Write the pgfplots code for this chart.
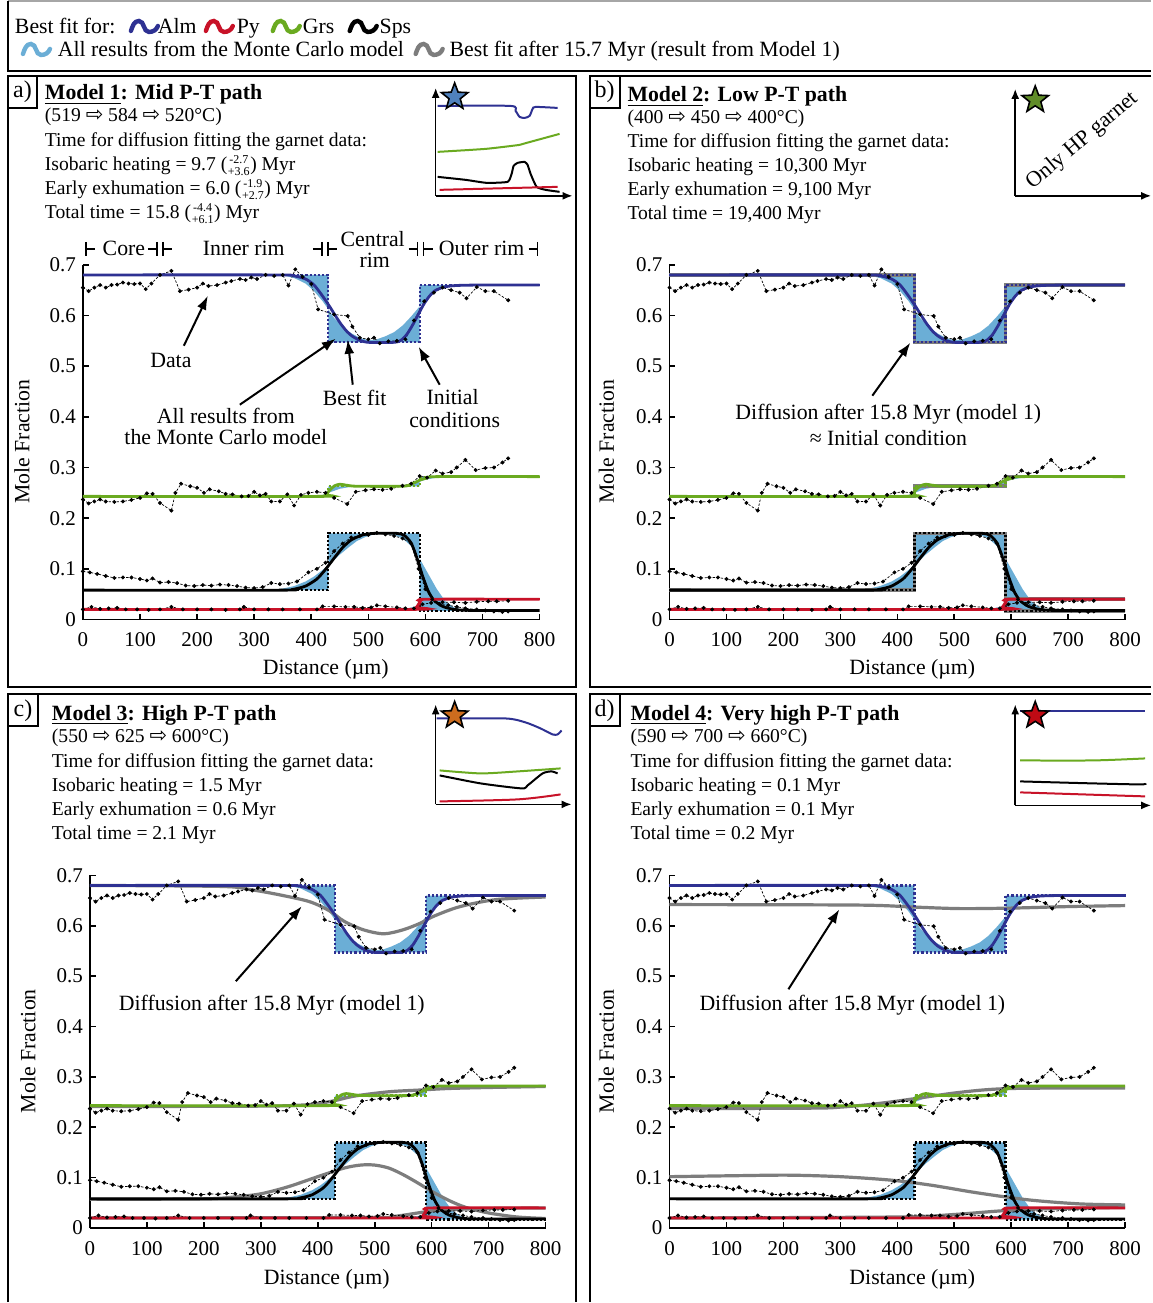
\documentclass[border=0pt]{standalone}
\usepackage{fontspec}
\setmainfont{Liberation Serif}
\newfontfamily\dejavu{DejaVu Sans}
\usepackage{pgfplots}
\pgfplotsset{compat=1.18}
\usepackage{pgfplotstable}
\usetikzlibrary{arrows.meta}

\definecolor{almblue}{RGB}{46,49,146}
\definecolor{pyred}{RGB}{200,18,40}
\definecolor{grsgreen}{RGB}{106,170,32}
\definecolor{mcblue}{RGB}{107,174,214}
\definecolor{gcurve}{RGB}{125,125,125}
\definecolor{starA}{RGB}{79,129,189}
\definecolor{starB}{RGB}{96,140,40}
\definecolor{starC}{RGB}{204,108,30}
\definecolor{starD}{RGB}{192,10,20}

\pgfdeclareplotmark{fstar}{%
  \pgfpathmoveto{\pgfpointpolar{90}{\pgfplotmarksize}}%
  \pgfpathlineto{\pgfpointpolar{126}{0.42*\pgfplotmarksize}}%
  \pgfpathlineto{\pgfpointpolar{162}{\pgfplotmarksize}}%
  \pgfpathlineto{\pgfpointpolar{198}{0.42*\pgfplotmarksize}}%
  \pgfpathlineto{\pgfpointpolar{234}{\pgfplotmarksize}}%
  \pgfpathlineto{\pgfpointpolar{270}{0.42*\pgfplotmarksize}}%
  \pgfpathlineto{\pgfpointpolar{306}{\pgfplotmarksize}}%
  \pgfpathlineto{\pgfpointpolar{342}{0.42*\pgfplotmarksize}}%
  \pgfpathlineto{\pgfpointpolar{18}{\pgfplotmarksize}}%
  \pgfpathlineto{\pgfpointpolar{54}{0.42*\pgfplotmarksize}}%
  \pgfpathclose
  \pgfusepathqfillstroke
}

% ---------------- measured data (same garnet in all panels)
\pgfplotstableread{
x y
0 0.655
10 0.648
20 0.655
30 0.660
40 0.655
50 0.660
60 0.661
70 0.665
80 0.663
90 0.662
100 0.663
110 0.652
120 0.663
135 0.680
155 0.688
170 0.648
185 0.651
200 0.655
210 0.663
220 0.658
235 0.660
250 0.665
260 0.668
275 0.672
285 0.670
295 0.675
305 0.672
320 0.680
335 0.678
350 0.680
360 0.659
372 0.691
385 0.676
400 0.662
412 0.612
440 0.602
464 0.599
472 0.578
485 0.556
500 0.553
510 0.556
520 0.545
535 0.549
550 0.550
565 0.553
580 0.590
598 0.628
615 0.645
630 0.655
645 0.650
660 0.645
672 0.634
690 0.656
705 0.648
720 0.648
745 0.630
}\almdata
\pgfplotstableread{
x y
0 0.237
10 0.229
20 0.233
30 0.237
40 0.233
55 0.232
70 0.233
85 0.236
100 0.240
112 0.249
122 0.248
135 0.230
155 0.215
162 0.250
172 0.268
188 0.263
200 0.260
212 0.250
222 0.257
238 0.253
250 0.248
262 0.247
278 0.243
290 0.244
300 0.252
310 0.245
320 0.248
330 0.233
345 0.233
358 0.247
370 0.225
382 0.246
395 0.250
410 0.252
425 0.250
440 0.240
463 0.228
478 0.252
495 0.255
510 0.257
525 0.256
540 0.258
560 0.264
575 0.268
590 0.283
603 0.280
618 0.294
630 0.288
645 0.291
655 0.300
670 0.315
688 0.295
705 0.299
720 0.300
735 0.310
745 0.318
}\grsdata
\pgfplotstableread{
x y
0 0.095
12 0.093
25 0.090
40 0.086
55 0.082
70 0.083
85 0.083
100 0.080
112 0.077
122 0.081
135 0.073
150 0.074
165 0.072
180 0.067
195 0.066
210 0.068
225 0.067
240 0.069
255 0.068
270 0.066
285 0.063
300 0.062
315 0.064
330 0.072
345 0.070
360 0.071
375 0.075
395 0.093
410 0.100
425 0.112
440 0.135
455 0.150
470 0.162
485 0.165
500 0.167
515 0.171
530 0.168
545 0.165
560 0.160
575 0.150
588 0.100
600 0.060
612 0.040
625 0.030
640 0.028
655 0.025
670 0.022
690 0.020
705 0.018
720 0.016
735 0.015
745 0.016
}\spsdata
\pgfplotstableread{
x y
0 0.020
15 0.025
30 0.021
45 0.022
60 0.023
75 0.020
95 0.020
115 0.019
135 0.020
155 0.025
175 0.020
200 0.020
225 0.020
250 0.019
275 0.020
282 0.025
300 0.020
325 0.020
350 0.020
380 0.020
410 0.020
420 0.026
440 0.026
460 0.025
475 0.025
490 0.023
505 0.024
515 0.028
530 0.026
550 0.024
565 0.022
580 0.022
595 0.030
610 0.033
630 0.034
650 0.034
670 0.033
690 0.035
710 0.036
725 0.036
745 0.037
}\pydata

% ---------------- best fits
\pgfplotstableread{
x y
0 0.680
340 0.680
370 0.678
390 0.672
405 0.660
420 0.638
432 0.618
442 0.600
452 0.583
462 0.569
472 0.559
485 0.551
500 0.547
545 0.547
557 0.551
567 0.562
577 0.580
587 0.601
597 0.622
607 0.638
617 0.649
632 0.656
652 0.659
690 0.660
800 0.660
}\almfit
\pgfplotstableread{
x y
0 0.243
415 0.243
425 0.246
433 0.256
441 0.264
450 0.267
462 0.265
480 0.263
560 0.263
575 0.267
590 0.275
602 0.279
620 0.282
800 0.282
}\grsfit
\pgfplotstableread{
x y
0 0.058
350 0.058
370 0.060
390 0.066
410 0.080
425 0.099
440 0.121
455 0.142
470 0.157
490 0.167
510 0.170
550 0.170
563 0.166
575 0.151
585 0.122
595 0.086
605 0.056
615 0.038
630 0.026
650 0.020
680 0.018
800 0.018
}\spsfit
\pgfplotstableread{
x y
0 0.020
575 0.020
584 0.024
591 0.035
600 0.040
800 0.040
}\pyfit

% ---------------- initial conditions
\pgfplotstableread{
x y
0 0.680
430 0.680
430 0.547
590 0.547
590 0.660
800 0.660
}\alminit
\pgfplotstableread{
x y
0 0.243
430 0.243
430 0.263
590 0.263
590 0.282
800 0.282
}\grsinit
\pgfplotstableread{
x y
0 0.058
430 0.058
430 0.170
590 0.170
590 0.017
800 0.017
}\spsinit
\pgfplotstableread{
x y
0 0.020
590 0.020
590 0.040
800 0.040
}\pyinit

% ---------------- Monte Carlo envelopes
\pgfplotstableread{
x y
330 0.680
430 0.680
430 0.547
590 0.547
590 0.660
660 0.660
640 0.658
620 0.650
605 0.638
590 0.618
575 0.598
560 0.580
545 0.567
530 0.559
515 0.553
500 0.551
485 0.556
470 0.565
455 0.578
440 0.595
430 0.612
420 0.628
405 0.648
390 0.663
370 0.674
350 0.679
330 0.680
}\almmc
\pgfplotstableread{
x y
400 0.243
430 0.243
430 0.263
590 0.263
590 0.282
640 0.282
620 0.280
600 0.276
585 0.270
570 0.266
550 0.264
500 0.263
470 0.262
450 0.258
435 0.252
420 0.246
400 0.243
}\grsmc
\pgfplotstableread{
x y
300 0.058
430 0.058
430 0.170
590 0.170
590 0.017
680 0.017
665 0.019
650 0.024
635 0.036
620 0.060
605 0.090
590 0.120
575 0.145
560 0.160
545 0.167
525 0.170
510 0.168
495 0.163
480 0.155
465 0.142
450 0.128
435 0.112
420 0.098
405 0.085
390 0.075
370 0.066
350 0.061
330 0.059
300 0.058
}\spsmc
\pgfplotstableread{
x y
560 0.020
590 0.020
590 0.040
630 0.040
610 0.037
595 0.032
580 0.025
560 0.020
}\pymc

% ---------------- gray curves, panel c
\pgfplotstableread{
x y
0 0.680
230 0.678
280 0.672
330 0.662
385 0.648
420 0.630
446 0.609
480 0.592
516 0.584
550 0.592
580 0.605
604 0.619
650 0.638
714 0.652
800 0.657
}\almgc
\pgfplotstableread{
x y
0 0.241
300 0.242
370 0.244
400 0.247
430 0.253
460 0.261
490 0.266
530 0.271
580 0.274
630 0.277
700 0.279
800 0.281
}\grsgc
\pgfplotstableread{
x y
0 0.057
200 0.058
256 0.062
300 0.068
348 0.082
400 0.102
446 0.119
475 0.125
500 0.125
525 0.119
550 0.106
575 0.090
600 0.073
630 0.055
660 0.041
700 0.030
750 0.022
800 0.019
}\spsgc
\pgfplotstableread{
x y
0 0.020
500 0.021
540 0.024
570 0.029
600 0.034
640 0.037
700 0.039
800 0.040
}\pygc
% ---------------- gray curves, panel d
\pgfplotstableread{
x y
0 0.642
330 0.641
430 0.637
510 0.634
600 0.635
700 0.638
800 0.640
}\almgd
\pgfplotstableread{
x y
0 0.237
250 0.238
300 0.240
350 0.245
400 0.252
450 0.260
500 0.268
550 0.274
600 0.277
700 0.278
800 0.278
}\grsgd
\pgfplotstableread{
x y
0 0.102
120 0.104
210 0.105
300 0.102
390 0.095
460 0.085
540 0.070
630 0.056
720 0.048
800 0.046
}\spsgd
\pgfplotstableread{
x y
0 0.020
400 0.022
500 0.027
580 0.034
650 0.038
800 0.041
}\pygd

\pgfplotsset{
 mainax/.style={
  scale only axis, anchor=south west,
  xmin=0, xmax=800, ymin=0, ymax=0.7,
  axis lines=left,
  axis line style={line width=0.9pt, -},
  xtick={0,100,200,300,400,500,600,700,800},
  xticklabels={0,100,200,300,400,500,600,700,800},
  ytick={0,0.1,0.2,0.3,0.4,0.5,0.6,0.7},
  yticklabels={0,0.1,0.2,0.3,0.4,0.5,0.6,0.7},
  tick align=inside,
  major tick length=3pt,
  tick style={black, line width=0.8pt},
  tick label style={font=\fontsize{10.5}{12}\selectfont},
  xticklabel style={yshift=-3pt},
  /pgf/number format/assume math mode=true,
  clip=false,
 },
 inset/.style={
  scale only axis, anchor=south west,
  axis lines=left,
  axis line style={line width=0.8pt, -{Latex[length=5pt,width=4pt]}},
  xtick=\empty, ytick=\empty,
  xmin=0, ymin=0, clip=false,
 },
}

\newcommand\mcfills{%
 \addplot[fill=mcblue, draw=none] table {\almmc};
 \addplot[fill=mcblue, draw=none] table {\grsmc};
 \addplot[fill=mcblue, draw=none] table {\spsmc};
 \addplot[fill=mcblue, draw=none] table {\pymc};
}
\newcommand\initlines{%
 \addplot[almblue, densely dotted, line width=1.1pt] table {\alminit};
 \addplot[grsgreen, densely dotted, line width=1.1pt] table {\grsinit};
 \addplot[black, densely dotted, line width=1.1pt] table {\spsinit};
 \addplot[pyred, densely dotted, line width=1.1pt] table {\pyinit};
}
\newcommand\grayinit{%
 \addplot[gcurve, line width=1.8pt] table {\alminit};
 \addplot[gcurve, line width=1.8pt] table {\grsinit};
 \addplot[gcurve, line width=1.8pt] table {\spsinit};
 \addplot[gcurve, line width=1.8pt] table {\pyinit};
}
\newcommand\datalines{%
 \addplot[black, dash pattern=on 1.2pt off 0.8pt, line width=0.35pt, mark=*, mark size=0.8pt, mark options={solid}] table {\almdata};
 \addplot[black, dash pattern=on 1.2pt off 0.8pt, line width=0.35pt, mark=*, mark size=0.8pt, mark options={solid}] table {\grsdata};
 \addplot[black, dash pattern=on 1.2pt off 0.8pt, line width=0.35pt, mark=*, mark size=0.8pt, mark options={solid}] table {\spsdata};
 \addplot[black, dash pattern=on 1.2pt off 0.8pt, line width=0.35pt, mark=*, mark size=0.8pt, mark options={solid}] table {\pydata};
}
\newcommand\bestfits{%
 \addplot[almblue, line width=1.4pt, smooth, tension=0.4] table {\almfit};
 \addplot[grsgreen, line width=1.4pt, smooth, tension=0.4] table {\grsfit};
 \addplot[black, line width=1.4pt, smooth, tension=0.4] table {\spsfit};
 \addplot[pyred, line width=1.4pt, smooth, tension=0.4] table {\pyfit};
}
\newcommand\graycurves[4]{%
 \addplot[gcurve, line width=1.6pt, smooth] table {#1};
 \addplot[gcurve, line width=1.6pt, smooth] table {#2};
 \addplot[gcurve, line width=1.6pt, smooth] table {#3};
 \addplot[gcurve, line width=1.6pt, smooth] table {#4};
}

\newcommand\ar{{\dejavu\fontsize{10.5}{10}\selectfont ⇨}}
\newcommand\fbody{\fontsize{9.8}{12}\selectfont}
\newcommand\fsmall{\fontsize{6}{6}\selectfont}
\newcommand\fann{\fontsize{10.9}{13}\selectfont}
\newcommand\ftitle{\fontsize{10.9}{13}\selectfont\bfseries}
\newcommand\wave[3]{\draw[#1, line width=2.2pt, line cap=round] (#2,-#3-4) to[out=70,in=180] (#2+8,-#3+6) to[out=0,in=180] (#2+18,-#3-5) to[out=0,in=-110] (#2+27,-#3+1);}
% line with stacked uncertainty: x, y, prefix, upper, lower
\newcommand\udline[5]{%
 \node[anchor=base west, font=\fbody] (p) at (#1,#2) {#3 (};
 \node[anchor=base west, font=\fsmall, xshift=0.3pt, yshift=-2.3pt] (lo) at (p.base east) {#5};
 \node[anchor=base, font=\fsmall, yshift=5.8pt] (hi) at (lo.base) {#4};
 \node[anchor=base west, font=\fbody, xshift=0.3pt, yshift=2.3pt] at (lo.base east) {) Myr};
}

\begin{document}
\begin{tikzpicture}
\begin{scope}[x=0.5pt,y=0.5pt]
\useasboundingbox (0,0) rectangle (1152,-1303);
\fill[white] (0,0) rectangle (1152,-1303);
\end{scope}

% ================= panel a
\begin{axis}[mainax, at={(41.5pt,-310pt)}, width=228.5pt, height=177.5pt]
\mcfills
\initlines
\datalines
\bestfits
\end{axis}
\begin{axis}[inset, at={(218pt,-98pt)}, width=68.5pt, height=54pt, xmax=137, ymax=108]
\addplot[almblue, line width=1pt, smooth, tension=0.4] coordinates {(2,90) (75,90) (80,85) (84,79) (89,78) (94,80) (97,87) (100,89) (122,88)};
\addplot[grsgreen, line width=1pt, smooth, tension=0.3] coordinates {(2,44) (50,47) (84,51) (91,53) (124,62)};
\addplot[black, line width=1pt, smooth, tension=0.3] coordinates {(2,19) (30,16) (51,13) (72,14) (76,22) (78,30) (82,33) (89,34) (92,31) (95,22) (101,9) (110,6) (124,4)};
\addplot[pyred, line width=1pt] coordinates {(4,6) (122,9)};
\addplot[only marks, mark=fstar, mark size=7pt, mark options={fill=starA, draw=black, line width=0.8pt}] coordinates {(19,99)};
\end{axis}

% ================= panel b
\begin{axis}[mainax, at={(335pt,-310pt)}, width=228pt, height=177.5pt]
\mcfills
\grayinit
\initlines
\datalines
\bestfits
\end{axis}
\begin{axis}[inset, at={(508pt,-98pt)}, width=68pt, height=53.5pt, xmax=136, ymax=107]
\addplot[only marks, mark=fstar, mark size=7pt, mark options={fill=starB, draw=black, line width=0.8pt}] coordinates {(20,96)};
\end{axis}

% ================= panel c
\begin{axis}[mainax, at={(45pt,-614.5pt)}, width=228pt, height=176.5pt]
\mcfills
\graycurves{\almgc}{\grsgc}{\spsgc}{\pygc}
\initlines
\datalines
\bestfits
\end{axis}
\begin{axis}[inset, at={(218pt,-402.5pt)}, width=68pt, height=50pt, xmax=136, ymax=100]
\addplot[almblue, line width=1pt, smooth, tension=0.4] coordinates {(1,86) (70,86) (90,82) (105,76) (117,70) (122,70) (126,74)};
\addplot[grsgreen, line width=1pt, smooth, tension=0.4] coordinates {(4,34) (45,31) (82,33) (125,36)};
\addplot[black, line width=1pt, smooth, tension=0.4] coordinates {(4,29) (45,21) (86,16) (92,19) (107,31) (116,33) (122,31)};
\addplot[pyred, line width=1pt, smooth] coordinates {(4,3) (82,5) (125,10)};
\addplot[only marks, mark=fstar, mark size=7pt, mark options={fill=starC, draw=black, line width=0.8pt}] coordinates {(19,89)};
\end{axis}

% ================= panel d
\begin{axis}[mainax, at={(335pt,-614.5pt)}, width=228pt, height=176.5pt]
\mcfills
\graycurves{\almgd}{\grsgd}{\spsgd}{\pygd}
\initlines
\datalines
\bestfits
\end{axis}
\begin{axis}[inset, at={(508pt,-403pt)}, width=68pt, height=50.5pt, xmax=136, ymax=101]
\addplot[almblue, line width=1pt] coordinates {(5,94) (130,94)};
\addplot[grsgreen, line width=1pt, smooth] coordinates {(5,45) (78,45) (130,47)};
\addplot[black, line width=1pt, smooth] coordinates {(5,24) (78,22) (125,21) (130,22)};
\addplot[pyred, line width=1pt] coordinates {(5,13) (130,9)};
\addplot[only marks, mark=fstar, mark size=7pt, mark options={fill=starD, draw=black, line width=0.8pt}] coordinates {(20,90)};
\end{axis}

% ================= annotations and frames
\begin{scope}[x=0.5pt,y=0.5pt, every node/.style={inner sep=0pt, outer sep=0pt}]
% frames
\draw[gray!70, line width=0.6pt] (8,-1) -- (1152,-1);
\draw[line width=1pt] (8,-1) -- (8,-71) -- (1152,-71);
\draw[line width=1pt] (8,-76) rectangle (576,-688);
\draw[line width=1pt] (1152,-76) -- (590,-76) -- (590,-688) -- (1152,-688);
\draw[line width=1pt] (8,-1303) -- (8,-695) -- (576,-695) -- (576,-1303);
\draw[line width=1pt] (590,-1303) -- (590,-695) -- (1152,-695);
% label boxes
\draw[line width=1pt] (8,-76) rectangle (37,-108);
\node[font=\fontsize{12}{14}\selectfont] at (22.5,-92) {a)};
\draw[line width=1pt] (590,-76) rectangle (620,-108);
\node[font=\fontsize{12}{14}\selectfont] at (605,-92) {b)};
\draw[line width=1pt] (8,-695) rectangle (38,-727);
\node[font=\fontsize{12}{14}\selectfont] at (23,-711) {c)};
\draw[line width=1pt] (590,-695) rectangle (620,-727);
\node[font=\fontsize{12}{14}\selectfont] at (605,-711) {d)};

% legend
\node[anchor=base west, font=\fann] at (15,-34) {Best fit for:};
\wave{almblue}{131}{27}
\node[anchor=base west, font=\fann] at (158,-34) {Alm};
\wave{pyred}{206}{27}
\node[anchor=base west, font=\fann] at (237,-34) {Py};
\wave{grsgreen}{273}{27}
\node[anchor=base west, font=\fann] at (303,-34) {Grs};
\wave{black}{350}{27}
\node[anchor=base west, font=\fann] at (380,-34) {Sps};
\wave{mcblue}{23}{50}
\node[anchor=base west, font=\fann] at (58,-57) {All results from the Monte Carlo model};
\wave{gcurve}{416}{50}
\node[anchor=base west, font=\fann] at (450,-57) {Best fit after 15.7 Myr (result from Model 1)};

% panel a text
\node[anchor=base west, font=\ftitle] at (45,-100) {\underline{Model 1}: Mid P-T path};
\node[anchor=base west, font=\fbody] at (45,-122) {(519 \ar\ 584 \ar\ 520°C)};
\node[anchor=base west, font=\fbody] at (45,-147) {Time for diffusion fitting the garnet data:};
\udline{45}{-171}{Isobaric heating = 9.7}{-2.7}{+3.6}
\udline{45}{-195}{Early exhumation = 6.0}{-1.9}{+2.7}
\udline{45}{-219}{Total time = 15.8}{-4.4}{+6.1}
% zone header
\draw[line width=0.8pt] (86,-242) -- (86,-256) (86,-249) -- (95,-249);
\node[anchor=base, font=\fann] at (124,-256) {Core};
\draw[line width=0.8pt] (148,-249) -- (157,-249) (157,-242) -- (157,-256) (163,-242) -- (163,-256) (163,-249) -- (172,-249);
\node[anchor=base, font=\fann] at (244,-256) {Inner rim};
\draw[line width=0.8pt] (313,-249) -- (322,-249) (322,-242) -- (322,-256) (328,-242) -- (328,-256) (328,-249) -- (337,-249);
\node[anchor=base, font=\fann] at (373,-247) {Central};
\node[anchor=base, font=\fann] at (375,-268) {rim};
\draw[line width=0.8pt] (409,-249) -- (418,-249) (418,-242) -- (418,-256) (424,-242) -- (424,-256) (424,-249) -- (433,-249);
\node[anchor=base, font=\fann] at (482,-256) {Outer rim};
\draw[line width=0.8pt] (529,-249) -- (538,-249) (538,-242) -- (538,-256);
% annotations a
\node[anchor=base, font=\fann] at (171,-368) {Data};
\draw[line width=1pt, -{Latex[length=7pt,width=5pt]}] (184,-346) -- (208,-296);
\node[anchor=base, font=\fann] at (226,-424) {All results from};
\node[anchor=base, font=\fann] at (226,-445) {the Monte Carlo model};
\draw[line width=1pt, -{Latex[length=7pt,width=5pt]}] (240,-405) -- (336,-339);
\node[anchor=base, font=\fann] at (355,-406) {Best fit};
\draw[line width=1pt, -{Latex[length=7pt,width=5pt]}] (353,-385) -- (348,-340);
\node[anchor=base, font=\fann] at (453,-405) {Initial};
\node[anchor=base, font=\fann] at (455,-428) {conditions};
\draw[line width=1pt, -{Latex[length=7pt,width=5pt]}] (440,-385) -- (419,-347);
\node[anchor=base, font=\fann] at (326,-675) {Distance (µm)};
\node[rotate=90, font=\fann] at (22,-442) {Mole Fraction};

% panel b text
\node[anchor=base west, font=\ftitle] at (628,-102) {\underline{Model 2}: Low P-T path};
\node[anchor=base west, font=\fbody] at (628,-124) {(400 \ar\ 450 \ar\ 400°C)};
\node[anchor=base west, font=\fbody] at (628,-148) {Time for diffusion fitting the garnet data:};
\node[anchor=base west, font=\fbody] at (628,-172) {Isobaric heating = 10,300 Myr};
\node[anchor=base west, font=\fbody] at (628,-196) {Early exhumation = 9,100 Myr};
\node[anchor=base west, font=\fbody] at (628,-220) {Total time = 19,400 Myr};
\node[rotate=40, font=\fontsize{11}{13}\selectfont] at (1083,-141) {Only HP garnet};
\node[anchor=base, font=\fann] at (889,-420) {Diffusion after 15.8 Myr (model 1)};
\node[anchor=base, font=\fann] at (889,-446) {≈ Initial condition};
\draw[line width=1pt, -{Latex[length=7pt,width=5pt]}] (873,-396) -- (911,-343);
\node[anchor=base, font=\fann] at (913,-675) {Distance (µm)};
\node[rotate=90, font=\fann] at (607,-442) {Mole Fraction};

% panel c text
\node[anchor=base west, font=\ftitle] at (52,-721) {\underline{Model 3}: High P-T path};
\node[anchor=base west, font=\fbody] at (52,-743) {(550 \ar\ 625 \ar\ 600°C)};
\node[anchor=base west, font=\fbody] at (52,-768) {Time for diffusion fitting the garnet data:};
\node[anchor=base west, font=\fbody] at (52,-792) {Isobaric heating = 1.5 Myr};
\node[anchor=base west, font=\fbody] at (52,-816) {Early exhumation = 0.6 Myr};
\node[anchor=base west, font=\fbody] at (52,-840) {Total time = 2.1 Myr};
\node[anchor=base, font=\fann] at (272,-1011) {Diffusion after 15.8 Myr (model 1)};
\draw[line width=1pt, -{Latex[length=7pt,width=5pt]}] (236,-982) -- (302,-907);
\node[anchor=base, font=\fann] at (327,-1285) {Distance (µm)};
\node[rotate=90, font=\fann] at (28,-1052) {Mole Fraction};

% panel d text
\node[anchor=base west, font=\ftitle] at (631,-721) {\underline{Model 4}: Very high P-T path};
\node[anchor=base west, font=\fbody] at (631,-743) {(590 \ar\ 700 \ar\ 660°C)};
\node[anchor=base west, font=\fbody] at (631,-768) {Time for diffusion fitting the garnet data:};
\node[anchor=base west, font=\fbody] at (631,-792) {Isobaric heating = 0.1 Myr};
\node[anchor=base west, font=\fbody] at (631,-816) {Early exhumation = 0.1 Myr};
\node[anchor=base west, font=\fbody] at (631,-840) {Total time = 0.2 Myr};
\node[anchor=base, font=\fann] at (853,-1011) {Diffusion after 15.8 Myr (model 1)};
\draw[line width=1pt, -{Latex[length=7pt,width=5pt]}] (789,-990) -- (840,-910);
\node[anchor=base, font=\fann] at (913,-1285) {Distance (µm)};
\node[rotate=90, font=\fann] at (607,-1052) {Mole Fraction};
\end{scope}
\end{tikzpicture}
\end{document}
